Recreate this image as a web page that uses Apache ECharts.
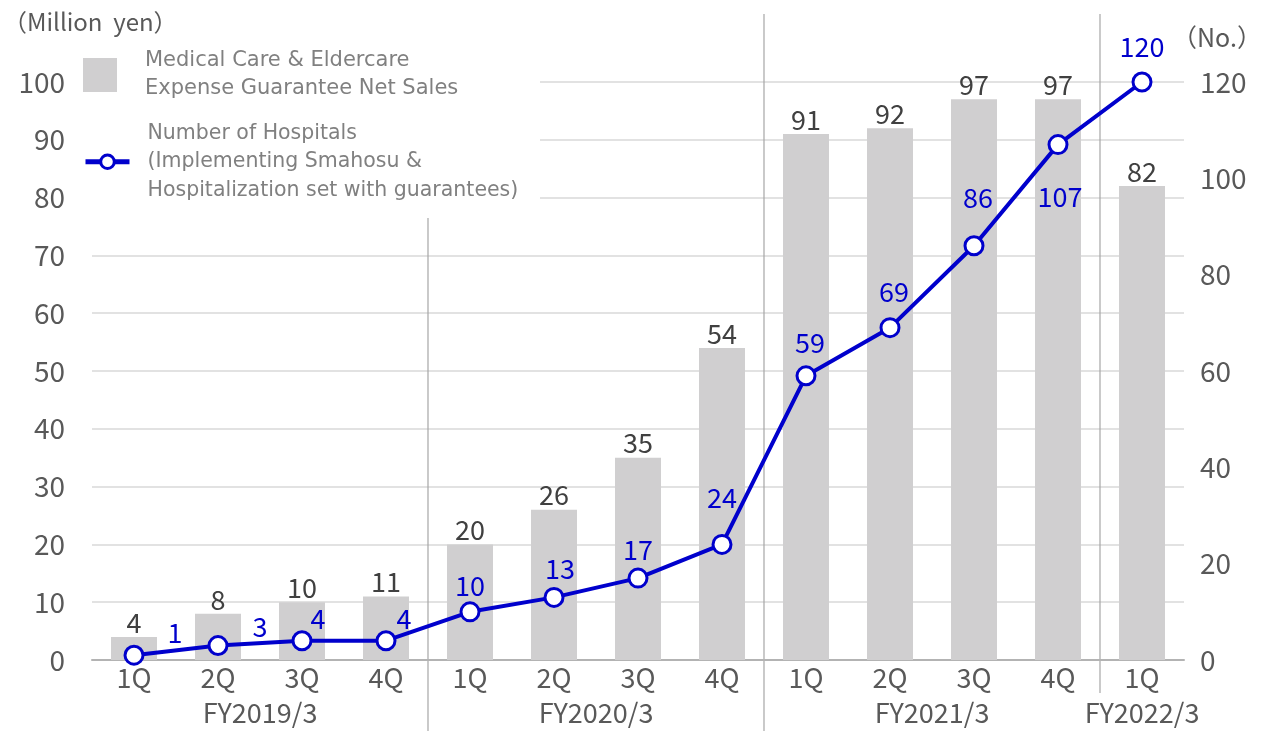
<!DOCTYPE html>
<html>
<head>
<meta charset="utf-8">
<script src="https://cdn.jsdelivr.net/npm/echarts@6/dist/echarts.min.js"></script>
<style>
  html, body { margin: 0; padding: 0; background: #fff; }
  #chart { width: 1267px; height: 731px; }
</style>
</head>
<body>
<div id="chart"></div>
<script>
// Quarter categories and fiscal-year groups
const quarters = ['1Q', '2Q', '3Q', '4Q', '1Q', '2Q', '3Q', '4Q', '1Q', '2Q', '3Q', '4Q', '1Q'];
const fiscalYears = ['FY2019/3', 'FY2020/3', 'FY2021/3', 'FY2022/3'];
const fiscalYearSizes = [4, 4, 4, 1];

// Net sales (million yen) and number of hospitals
const netSales = [4, 8, 10, 11, 20, 26, 35, 54, 91, 92, 97, 97, 82];
const hospitals = [1, 3, 4, 4, 10, 13, 17, 24, 59, 69, 86, 107, 120];

const salesName = 'Medical Care & Eldercare\nExpense Guarantee Net Sales';
const hospitalsName = 'Number of Hospitals\n(Implementing Smahosu &\nHospitalization set with guarantees)';

// Label nudges for the hospital count labels (dx, dy from the marker centre)
const hospitalLabelNudge = [[41, -22], [42, -19], [16, -22], [18, -22], [0, -26], [6, -29], [0, -28],
  [0, -47], [4, -33], [4, -36], [4, -48], [2, 52], [0, -35]];

const axisFont = 'Noto Sans CJK JP';
const textFont = 'DejaVu Sans';
const blue = '#0000cc';
const tickGrey = '#595959';

const chart = echarts.init(document.getElementById('chart'), null, { renderer: 'canvas' });

const option = {
  animation: false,
  backgroundColor: '#fff',
  grid: { left: 92, right: 83, top: 82, bottom: 71, containLabel: false },
  legend: [
    {
      data: [{ name: salesName, icon: 'rect' }],
      orient: 'vertical', left: 83, top: 47,
      itemWidth: 34, itemHeight: 34, padding: 0,
      selectedMode: false,
      textStyle: { fontFamily: textFont, fontSize: 21, color: '#808080', lineHeight: 28, padding: [0, 0, 0, 23] }
    },
    {
      data: [{ name: hospitalsName }],
      orient: 'vertical', left: 83, top: 119,
      itemWidth: 44, itemHeight: 17, padding: 0,
      selectedMode: false,
      lineStyle: { width: 5 },
      itemStyle: { borderWidth: 3 },
      textStyle: { fontFamily: textFont, fontSize: 20.5, color: '#808080', lineHeight: 28.5, padding: [0, 0, 0, 13] }
    }
  ],
  xAxis: {
    type: 'category',
    data: quarters,
    axisLine: { lineStyle: { color: '#b3b3b3', width: 2 } },
    axisTick: { show: false },
    axisLabel: { fontFamily: axisFont, fontSize: 27, color: tickGrey, margin: 4 }
  },
  yAxis: [
    {
      type: 'value', min: 0, max: 100, interval: 10,
      axisLine: { show: false }, axisTick: { show: false },
      axisLabel: { fontFamily: axisFont, fontSize: 28, color: tickGrey, margin: 27 },
      splitLine: { lineStyle: { color: '#d9d9d9', width: 1.5 } }
    },
    {
      type: 'value', min: 0, max: 120, interval: 20,
      axisLine: { show: false }, axisTick: { show: false },
      axisLabel: { fontFamily: axisFont, fontSize: 28, color: tickGrey, margin: 16 },
      splitLine: { show: false }
    }
  ],
  series: [
    {
      name: salesName,
      type: 'bar',
      data: netSales,
      barWidth: 46,
      itemStyle: { color: '#d0cfd0' },
      label: { show: true, position: 'top', distance: 1, fontFamily: axisFont, fontSize: 27, color: '#404040' },
      z: 2
    },
    {
      name: hospitalsName,
      type: 'line',
      yAxisIndex: 1,
      data: hospitals.map((v, i) => ({
        value: v,
        label: { offset: hospitalLabelNudge[i] }
      })),
      symbol: 'circle',
      symbolSize: 18,
      lineStyle: { color: blue, width: 4 },
      itemStyle: { color: '#fff', borderColor: blue, borderWidth: 3 },
      label: { show: true, position: 'inside', fontFamily: axisFont, fontSize: 27, color: blue },
      z: 5
    }
  ]
};

chart.setOption(option);

// Fiscal-year separators, group labels and axis unit captions
function buildOverlay() {
  const px = i => chart.convertToPixel({ xAxisIndex: 0 }, i);
  const elements = [];
  const lineTops = [218, 14, 14];
  const lineBottoms = [731, 731, 693];
  let start = 0;
  fiscalYears.forEach((fy, g) => {
    const end = start + fiscalYearSizes[g] - 1;
    const cx = (px(start) + px(end)) / 2;
    elements.push({
      type: 'text', z: 10,
      style: { text: fy, x: cx, y: 713, align: 'center', verticalAlign: 'middle',
        font: '27px "' + axisFont + '"', fill: tickGrey }
    });
    if (g < fiscalYears.length - 1) {
      const bx = (px(end) + px(end + 1)) / 2;
      elements.push({
        type: 'line', z: 0,
        shape: { x1: bx, y1: lineTops[g], x2: bx, y2: lineBottoms[g] },
        style: { stroke: '#a6a6a6', lineWidth: 1.2 }
      });
    }
    start = end + 1;
  });
  // white panel behind the legend
  elements.push({
    type: 'rect', z: 1,
    shape: { x: 78, y: 44, width: 462, height: 172 },
    style: { fill: '#fff' }
  });
  elements.push({
    type: 'text', z: 10,
    style: { text: '（Million  yen）', x: 3, y: 22, verticalAlign: 'middle',
      font: '24px "' + axisFont + '"', fill: tickGrey }
  });
  elements.push({
    type: 'text', z: 10,
    style: { text: '（No.）', x: 1172, y: 37, verticalAlign: 'middle',
      font: '25px "' + axisFont + '"', fill: tickGrey }
  });
  chart.setOption({ graphic: { elements: elements } });
}
buildOverlay();
</script>
</body>
</html>
